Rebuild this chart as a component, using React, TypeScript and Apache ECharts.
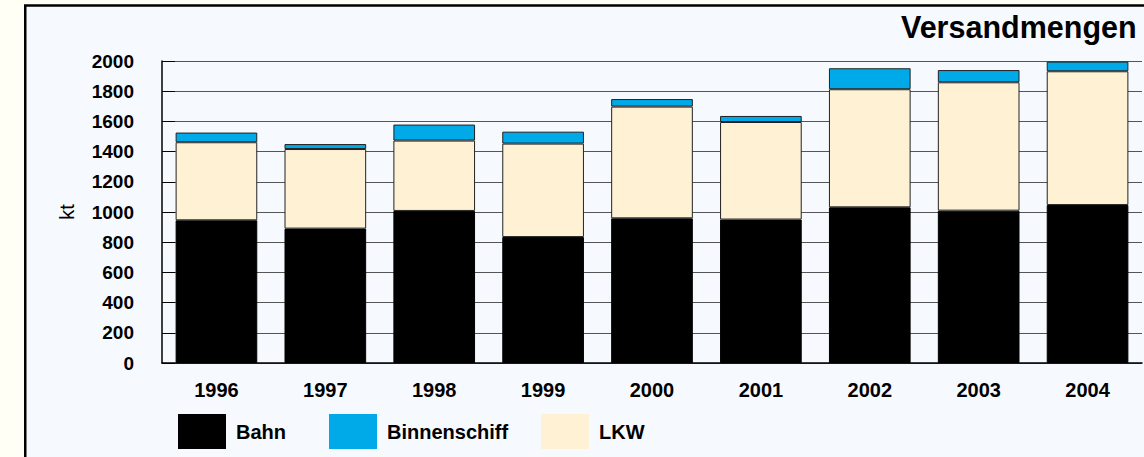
import React, { useEffect, useRef } from "react";
import * as echarts from "echarts";

const years = ["1996", "1997", "1998", "1999", "2000", "2001", "2002", "2003", "2004"];
const bahn = [945, 890, 1007, 834, 958, 950, 1031, 1009, 1046];
const lkw = [517, 527, 466, 619, 740, 646, 782, 850, 886];
const binnenschiff = [64, 33, 106, 79, 50, 40, 139, 81, 64];

const FONT = "'Liberation Sans', Arial, Helvetica, sans-serif";

export default function App() {
  const ref = useRef<HTMLDivElement>(null);
  useEffect(() => {
    if (!ref.current) return;
    const chart = echarts.init(ref.current, undefined, { renderer: "svg" });
    const legendBase = {
      top: 414,
      padding: 0,
      itemWidth: 48,
      itemHeight: 35,
      icon: "rect",
      itemStyle: { borderWidth: 0 },
      textStyle: { fontFamily: FONT, fontSize: 20, fontWeight: "bold", color: "#000", padding: [4, 0, 0, 5] },
      selectedMode: false,
    };
    chart.setOption({
      animation: false,
      backgroundColor: "#fffff5",
      textStyle: { fontFamily: FONT },
      graphic: {
        elements: [
          {
            type: "rect",
            z: -10,
            silent: true,
            shape: { x: 25.25, y: 5.5, width: 2000, height: 1000 },
            style: { fill: "#f6faff", stroke: "#000", lineWidth: 2.5 },
          },
        ],
      },
      title: {
        text: "Versandmengen",
        left: 901,
        top: 11,
        padding: 0,
        textStyle: { fontFamily: FONT, fontSize: 30.5, fontWeight: "bold", color: "#000" },
      },
      legend: [
        { ...legendBase, left: 178, data: ["Bahn"] },
        { ...legendBase, left: 329, data: ["Binnenschiff"] },
        { ...legendBase, left: 541, data: ["LKW"] },
      ],
      grid: { left: 162, right: 2, top: 61, bottom: 94, containLabel: false },
      xAxis: {
        type: "category",
        data: years,
        axisLine: { lineStyle: { color: "#000", width: 1.5 } },
        axisTick: { inside: true, length: 5, lineStyle: { color: "#000" } },
        axisLabel: { margin: 17, fontFamily: FONT, fontSize: 20, fontWeight: "bold", color: "#000" },
      },
      yAxis: {
        type: "value",
        min: 0,
        max: 2000,
        interval: 200,
        name: "kt",
        nameLocation: "middle",
        nameGap: 85,
        nameRotate: 90,
        nameTextStyle: { fontFamily: FONT, fontSize: 20, color: "#000" },
        axisLine: { show: true, lineStyle: { color: "#000", width: 1.5 } },
        axisTick: { show: true, inside: true, length: 13, lineStyle: { color: "#000" } },
        axisLabel: {
          margin: 28,
          fontFamily: FONT,
          fontSize: 19,
          fontWeight: "bold",
          color: "#000",
          formatter: (v: number) => String(v),
        },
        splitLine: { show: true, lineStyle: { color: "#555", width: 1 } },
      },
      series: [
        {
          name: "Bahn",
          type: "bar",
          stack: "total",
          data: bahn,
          barCategoryGap: "25%",
          itemStyle: { color: "#000000", borderColor: "#000", borderWidth: 1 },
        },
        {
          name: "LKW",
          type: "bar",
          stack: "total",
          data: lkw,
          itemStyle: { color: "#fef1d4", borderColor: "#222", borderWidth: 1 },
        },
        {
          name: "Binnenschiff",
          type: "bar",
          stack: "total",
          data: binnenschiff,
          itemStyle: { color: "#00a9e8", borderColor: "#222", borderWidth: 1 },
        },
      ],
    });
    return () => chart.dispose();
  }, []);
  return (
    <div
      ref={ref}
      style={{ position: "absolute", left: 0, top: 0, width: 1144, height: 457 }}
    />
  );
}
